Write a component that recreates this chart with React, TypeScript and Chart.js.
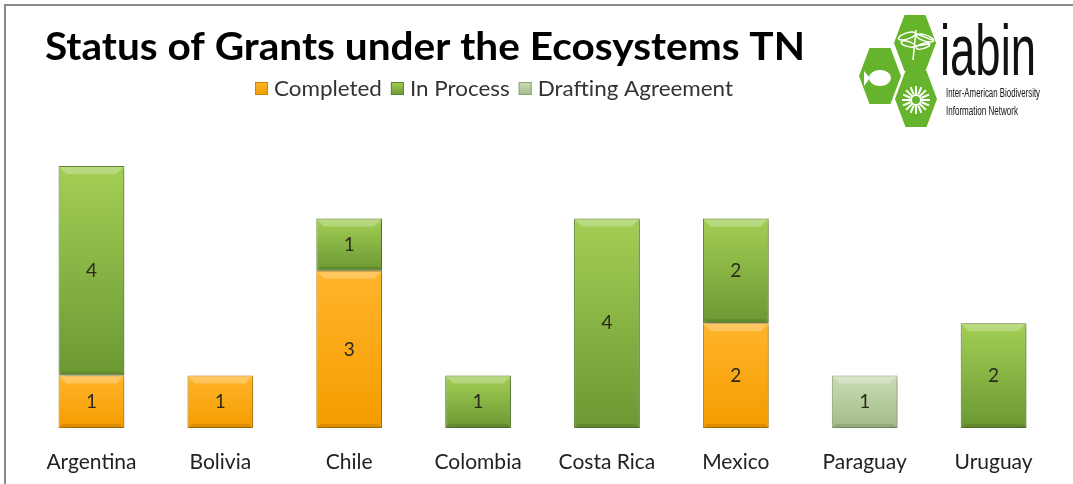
import React, { useEffect, useRef } from "react";
import { Chart, registerables } from "chart.js";

Chart.register(...registerables);

const categories = ["Argentina", "Bolivia", "Chile", "Colombia", "Costa Rica", "Mexico", "Paraguay", "Uruguay"];
const completed = [1, 1, 3, 0, 0, 2, 0, 0];
const inProcess = [4, 0, 1, 1, 4, 2, 0, 2];
const drafting = [0, 0, 0, 0, 0, 0, 1, 0];
const seriesNames = ["Completed", "In Process", "Drafting Agreement"];
const titleText = "Status of Grants under the Ecosystems TN";

const FONT = "Lato, 'Open Sans', sans-serif";

const palettes = [
  { light: "#ffb52a", dark: "#f59c00", border: "#c98400" },
  { light: "#a3cf55", dark: "#6b9833", border: "#5d8430" },
  { light: "#c9ddb5", dark: "#a3bb87", border: "#8ea574" },
];

const allSeries = [completed, inProcess, drafting];

function gradientFor(dsIndex: number) {
  return (ctx: any) => {
    const p = palettes[dsIndex];
    const chart = ctx.chart;
    if (ctx.type !== "data" || !chart.chartArea || !chart.scales.y) return p.dark;
    const j = ctx.dataIndex;
    let start = 0;
    for (let k = 0; k < dsIndex; k++) start += allSeries[k][j] || 0;
    const end = start + (allSeries[dsIndex][j] || 0);
    const ys = chart.scales.y;
    const top = ys.getPixelForValue(end);
    const bot = ys.getPixelForValue(start);
    if (!isFinite(top) || !isFinite(bot) || top === bot) return p.dark;
    const g = chart.ctx.createLinearGradient(0, top, 0, bot);
    g.addColorStop(0, p.light);
    g.addColorStop(1, p.dark);
    return g;
  };
}

function hexPath(ctx: CanvasRenderingContext2D, cx: number, cy: number, w: number, h: number) {
  ctx.beginPath();
  ctx.moveTo(cx - w / 2, cy);
  ctx.lineTo(cx - w / 4, cy - h / 2);
  ctx.lineTo(cx + w / 4, cy - h / 2);
  ctx.lineTo(cx + w / 2, cy);
  ctx.lineTo(cx + w / 4, cy + h / 2);
  ctx.lineTo(cx - w / 4, cy + h / 2);
  ctx.closePath();
}

function fitText(ctx: CanvasRenderingContext2D, text: string, x: number, y: number, width: number) {
  const w = ctx.measureText(text).width;
  ctx.save();
  ctx.translate(x, y);
  ctx.scale(width / w, 1);
  ctx.fillText(text, 0, 0);
  ctx.restore();
}

const decorPlugin = {
  id: "decor",
  beforeDraw(chart: any) {
    const ctx: CanvasRenderingContext2D = chart.ctx;
    ctx.save();
    ctx.fillStyle = "#ffffff";
    ctx.fillRect(0, 0, chart.width, chart.height);
    // frame
    ctx.strokeStyle = "#8a8a8a";
    ctx.lineWidth = 2;
    ctx.beginPath();
    ctx.moveTo(5, chart.height);
    ctx.lineTo(5, 5);
    ctx.lineTo(chart.width, 5);
    ctx.stroke();
    // title
    ctx.fillStyle = "#000";
    ctx.font = `bold 39px ${FONT}`;
    ctx.textBaseline = "middle";
    ctx.textAlign = "left";
    fitText(ctx, titleText, 45, 47, 760);
    // legend
    ctx.font = `22px ${FONT}`;
    const gap1 = 6;
    const gap2 = 9;
    let natural = 0;
    seriesNames.forEach((n) => (natural += ctx.measureText(n).width));
    const totalW = 733 - 255;
    const textScale = (totalW - 3 * (13 + gap1) - 2 * gap2) / natural;
    let x = 255;
    seriesNames.forEach((name, i) => {
      const p = palettes[i];
      const g = ctx.createLinearGradient(0, 82, 0, 95);
      g.addColorStop(0, p.light);
      g.addColorStop(1, p.dark);
      ctx.fillStyle = g;
      ctx.fillRect(x, 82, 13, 13);
      ctx.strokeStyle = p.border;
      ctx.lineWidth = 1;
      ctx.strokeRect(x + 0.5, 82.5, 12, 12);
      ctx.fillStyle = "#333";
      const tw = ctx.measureText(name).width * textScale;
      fitText(ctx, name, x + 13 + gap1, 89, tw);
      x += 13 + gap1 + tw + gap2;
    });
    // logo hexagons
    const hexes = [
      [915, 43],
      [880, 76],
      [916, 99],
    ];
    ctx.fillStyle = "#66b42c";
    hexes.forEach(([cx, cy]) => {
      hexPath(ctx, cx, cy, 42, 56);
      ctx.fill();
    });
    ctx.fillStyle = "#ffffff";
    ctx.strokeStyle = "#ffffff";
    // fish
    ctx.beginPath();
    ctx.ellipse(880, 78, 11, 8, 0, 0, Math.PI * 2);
    ctx.fill();
    ctx.beginPath();
    ctx.moveTo(870, 78);
    ctx.lineTo(864, 71);
    ctx.lineTo(864, 86);
    ctx.closePath();
    ctx.fill();
    // dragonfly
    ctx.lineWidth = 1.5;
    ctx.beginPath();
    ctx.moveTo(916, 30);
    ctx.lineTo(913, 60);
    ctx.stroke();
    ctx.beginPath();
    ctx.ellipse(907, 36, 9, 3, -0.3, 0, Math.PI * 2);
    ctx.ellipse(925, 38, 9, 3, 0.3, 0, Math.PI * 2);
    ctx.stroke();
    ctx.beginPath();
    ctx.ellipse(908, 44, 7, 2.5, 0.3, 0, Math.PI * 2);
    ctx.ellipse(923, 46, 7, 2.5, -0.3, 0, Math.PI * 2);
    ctx.stroke();
    // flower
    for (let a = 0; a < 16; a++) {
      const ang = (a / 16) * Math.PI * 2;
      ctx.beginPath();
      ctx.moveTo(916 + Math.cos(ang) * 6, 100 + Math.sin(ang) * 6);
      ctx.lineTo(916 + Math.cos(ang) * 14, 100 + Math.sin(ang) * 14);
      ctx.lineWidth = 2;
      ctx.stroke();
    }
    ctx.beginPath();
    ctx.arc(916, 100, 5, 0, Math.PI * 2);
    ctx.lineWidth = 2;
    ctx.stroke();
    // iabin text
    ctx.fillStyle = "#111";
    ctx.textBaseline = "alphabetic";
    ctx.font = `72px 'Liberation Sans', sans-serif`;
    fitText(ctx, "iabin", 940, 75, 96);
    ctx.font = `13px 'Liberation Sans', sans-serif`;
    fitText(ctx, "Inter-American Biodiversity", 946, 97, 94);
    fitText(ctx, "Information Network", 946, 115, 72);
    ctx.restore();
  },
  beforeDatasetsDraw(chart: any) {
    const ctx = chart.ctx;
    ctx.save();
    ctx.shadowColor = "rgba(0,0,0,0.28)";
    ctx.shadowBlur = 4;
    ctx.shadowOffsetX = 2;
    ctx.shadowOffsetY = 2;
  },
  afterDatasetsDraw(chart: any) {
    const ctx: CanvasRenderingContext2D = chart.ctx;
    ctx.restore();
    ctx.save();
    chart.data.datasets.forEach((ds: any, i: number) => {
      const meta = chart.getDatasetMeta(i);
      meta.data.forEach((bar: any, j: number) => {
        const v = ds.data[j];
        if (!v) return;
        const half = bar.width / 2;
        const l = bar.x - half + 1;
        const r = bar.x + half - 1;
        const t = bar.y + 1;
        const b = bar.base - 1;
        const bev = 7;
        ctx.fillStyle = "rgba(255,255,255,0.25)";
        ctx.beginPath();
        ctx.moveTo(l, t);
        ctx.lineTo(r, t);
        ctx.lineTo(r - bev, t + bev);
        ctx.lineTo(l + bev, t + bev);
        ctx.closePath();
        ctx.fill();
        ctx.fillStyle = "rgba(0,0,0,0.10)";
        ctx.beginPath();
        ctx.moveTo(l, b);
        ctx.lineTo(r, b);
        ctx.lineTo(r - 3, b - 3);
        ctx.lineTo(l + 3, b - 3);
        ctx.closePath();
        ctx.fill();
        ctx.fillStyle = "#2a2a1a";
        ctx.font = `19px ${FONT}`;
        ctx.textAlign = "center";
        ctx.textBaseline = "middle";
        ctx.fillText(String(v), bar.x, (bar.y + bar.base) / 2);
      });
    });
    ctx.restore();
  },
};

export default function App() {
  const ref = useRef<HTMLCanvasElement | null>(null);
  useEffect(() => {
    if (!ref.current) return;
    const chart = new Chart(ref.current, {
      type: "bar",
      data: {
        labels: categories,
        datasets: allSeries.map((s, i) => ({
          label: seriesNames[i],
          data: s.map((v) => (v ? v : null)),
          backgroundColor: gradientFor(i),
          borderColor: palettes[i].border,
          borderWidth: 1,
          borderSkipped: false,
          barPercentage: 0.51,
          categoryPercentage: 1,
        })),
      },
      options: {
        animation: false,
        responsive: false,
        maintainAspectRatio: false,
        layout: { padding: { left: 27, right: 15, top: 166, bottom: 8 } },
        plugins: {
          legend: { display: false },
          title: { display: false },
          tooltip: { enabled: false },
        },
        scales: {
          x: {
            stacked: true,
            grid: { display: false, drawTicks: false },
            border: { display: false },
            ticks: {
              color: "#222",
              font: { family: FONT, size: 21 },
              padding: 22,
            },
            afterFit: (scale: any) => {
              scale.height = 48;
            },
          },
          y: {
            stacked: true,
            display: false,
            min: 0,
            max: 5,
          },
        },
      },
      plugins: [decorPlugin],
    });
    return () => chart.destroy();
  }, []);
  return (
    <div style={{ position: "fixed", left: 0, top: 0, width: 1073, height: 484, background: "#fff" }}>
      <canvas ref={ref} width={1073} height={484} style={{ width: 1073, height: 484 }} />
    </div>
  );
}
